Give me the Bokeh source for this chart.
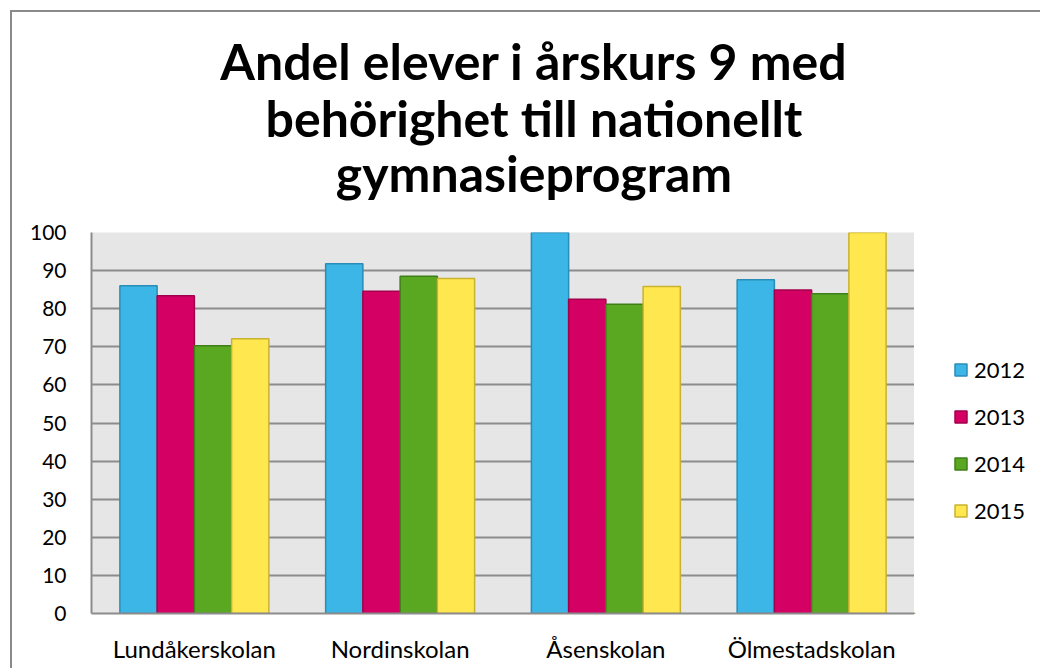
from bokeh.plotting import figure
from bokeh.layouts import column, row
from bokeh.models import ColumnDataSource, FactorRange, Range1d, FixedTicker, Legend, LegendItem
from bokeh.transform import dodge
from bokeh.core.properties import value
from bokeh.embed import file_html
from bokeh.resources import INLINE

schools = ["Lundåkerskolan", "Nordinskolan", "Åsenskolan", "Ölmestadskolan"]
years = ["2012", "2013", "2014", "2015"]
v2012 = [86.0, 91.8, 100.0, 87.6]
v2013 = [83.4, 84.6, 82.5, 84.9]
v2014 = [70.3, 88.5, 81.2, 83.9]
v2015 = [72.1, 87.9, 85.8, 100.0]
y_ticks = list(range(0, 101, 10))
title_lines = ["Andel elever i årskurs 9 med", "behörighet till nationellt", "gymnasieprogram"]

fills = ["#3bb6e6", "#d50064", "#5aa822", "#ffe74f"]
lines = ["#2a8db8", "#a3004c", "#3f7f18", "#c9b22f"]

FONT = "Lato"
W = 1028          # total width
TH = 205          # title strip height
MW = 902          # main chart width
MH = 451          # main chart height
LW = W - MW       # legend strip width


def bare(fig):
    fig.axis.visible = False
    fig.grid.visible = False
    fig.outline_line_color = None
    fig.background_fill_color = "white"
    fig.border_fill_color = "white"
    fig.min_border = 0
    fig.min_border_left = 0
    fig.min_border_right = 0
    fig.min_border_top = 0
    fig.min_border_bottom = 0


# ---- title strip ----
t = figure(width=W, height=TH, x_range=Range1d(0, W), y_range=Range1d(TH, 0),
           output_backend="svg", toolbar_location=None)
bare(t)
t.text(x=[521.5] * 3, y=[48, 105, 160], text=title_lines, text_align="center",
       text_baseline="alphabetic", text_font=value(FONT), text_font_style="bold",
       text_font_size="50px", text_color="black")

# ---- main chart ----
src = ColumnDataSource(dict(school=schools, y2012=v2012, y2013=v2013, y2014=v2014, y2015=v2015))

p = figure(x_range=FactorRange(*schools), y_range=Range1d(0, 100),
           width=MW, height=MH, output_backend="svg", toolbar_location=None,
           min_border_left=79, min_border_right=0, min_border_top=15, min_border_bottom=55)
p.background_fill_color = "#e6e6e6"
p.border_fill_color = "white"
p.outline_line_color = None

bw = 0.181
offsets = [-1.5 * bw, -0.5 * bw, 0.5 * bw, 1.5 * bw]
for i, yr in enumerate(years):
    p.vbar(x=dodge("school", offsets[i], range=p.x_range), top="y" + yr, width=bw,
           source=src, fill_color=fills[i], line_color=lines[i], line_width=1.5)

p.xgrid.grid_line_color = None
p.ygrid.grid_line_color = "#8c8c8c"
p.ygrid.grid_line_width = 2
p.yaxis.ticker = FixedTicker(ticks=y_ticks)

for ax in (p.xaxis[0], p.yaxis[0]):
    ax.axis_line_color = "#8c8c8c"
    ax.axis_line_width = 2
    ax.major_tick_line_color = None
    ax.minor_tick_line_color = None
    ax.major_tick_out = 0
    ax.major_tick_in = 0
    ax.major_label_text_font = FONT
    ax.major_label_text_color = "black"
p.yaxis.major_label_text_font_size = "21px"
p.xaxis.major_label_text_font_size = "24px"
p.yaxis.major_label_standoff = 25
p.xaxis.major_label_standoff = 20

# ---- legend strip (proxy renderers lie outside the visible ranges) ----
lf = figure(width=LW, height=MH, x_range=Range1d(0, 1), y_range=Range1d(0, 1),
            output_backend="svg", toolbar_location=None)
bare(lf)
proxy = ColumnDataSource(dict(x=[-5.0], top=[-5.0]))
lrs = [lf.vbar(x="x", top="top", bottom=-6.0, width=0.1, source=proxy, fill_color=fills[i],
               line_color=lines[i], line_width=1.5) for i in range(len(years))]
legend = Legend(items=[LegendItem(label=yr, renderers=[r]) for yr, r in zip(years, lrs)],
                location=(39, 89), border_line_color=None, background_fill_alpha=0,
                label_text_font=FONT, label_text_font_size="22px", label_text_color="black",
                glyph_width=15, glyph_height=15, label_height=26, spacing=20,
                padding=0, margin=0, label_standoff=6)
lf.add_layout(legend, "center")

lay = column(t, row(p, lf, spacing=0), spacing=0)
lay.margin = (10, 0, 0, 10)
lay.styles = {"border-left": "2px solid #8a8a8a", "border-top": "2px solid #8a8a8a"}

open("out.html", "w").write(file_html(lay, INLINE))
